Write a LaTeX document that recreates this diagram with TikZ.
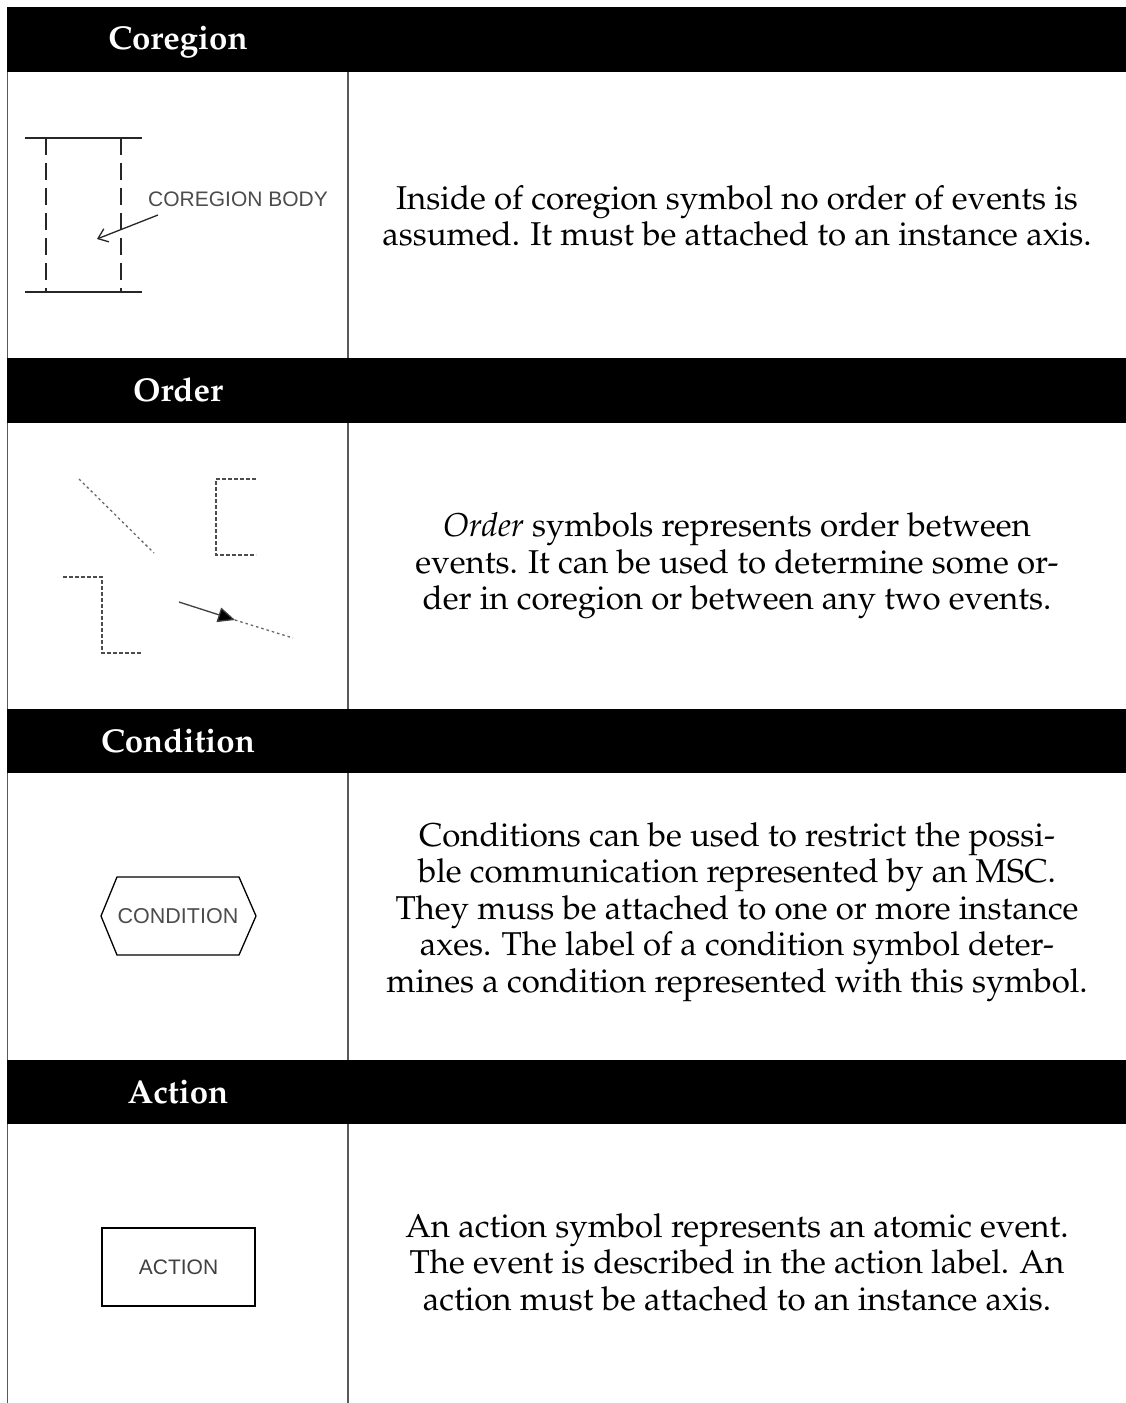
\documentclass[tikz,border=0pt]{standalone}
\usepackage[T1]{fontenc}
\usepackage{fontspec}
\newfontfamily\labelfont{Liberation Sans}
\newcommand\palfont{\fontencoding{T1}\fontfamily{ppl}\selectfont}
\usetikzlibrary{arrows.meta}

\begin{document}
\begin{tikzpicture}[x=1pt,y=-1pt,
  hdrbar/.style={fill=black,draw=none},
  hdrtext/.style={text=white,font=\palfont\bfseries\fontsize{33}{36}\selectfont,anchor=base,inner sep=0pt},
  bodytext/.style={align=center,font=\palfont\fontsize{33}{36.5}\selectfont,inner sep=0pt},
  tablerule/.style={draw=black!65,line width=1.5pt},
  symlabel/.style={font=\labelfont\fontsize{21}{24}\selectfont,text=black!70,inner sep=0pt},
  symline/.style={draw=black!85,line width=1.3pt},
  regiondash/.style={draw=black!85,line width=1.3pt,dash pattern=on 17pt off 8pt},
  orderdots/.style={draw=black!60,line width=1.3pt,dash pattern=on 2.5pt off 3pt},
  orderdash/.style={draw=black!70,line width=1.2pt,dash pattern=on 4pt off 2pt},
]
% page
\fill[white] (0,0) rectangle (1126,1403);
\useasboundingbox (0,0) rectangle (1126,1403);

% table frame
\draw[tablerule] (7.5,7) -- (7.5,1403);
\draw[tablerule] (348,72) -- (348,1403);

% header bars
\fill[hdrbar] (7,7) rectangle (1126,72);
\fill[hdrbar] (7,358) rectangle (1126,423);
\fill[hdrbar] (7,709) rectangle (1126,773);
\fill[hdrbar] (7,1060) rectangle (1126,1124);

\node[hdrtext] (hcoregion) at (178,49) {Coregion};
\node[hdrtext] (horder) at (178,401) {Order};
\node[hdrtext] (hcondition) at (178,752) {Condition};
\node[hdrtext] (haction) at (178,1103) {Action};

% descriptions
\node[bodytext] (tcoregion) at (737,216) {Inside of coregion symbol no order of events is\\assumed. It must be attached to an instance axis.};
\node[bodytext] (torder) at (737,566) {\textit{Order} symbols represents order between\\events. It can be used to determine some or-\\der in coregion or between any two events.};
\node[bodytext] (tcondition) at (737,912) {Conditions can be used to restrict the possi-\\ble communication represented by an MSC.\\They muss be attached to one or more instance\\axes. The label of a condition symbol deter-\\mines a condition represented with this symbol.};
\node[bodytext] (taction) at (737,1262) {An action symbol represents an atomic event.\\The event is described in the action label. An\\action must be attached to an instance axis.};

% coregion symbol
\draw[symline] (25,138) -- (142,138);
\draw[symline] (25,292) -- (142,292);
\draw[regiondash] (46,138) -- (46,292);
\draw[regiondash] (121,138) -- (121,292);
\node[symlabel,anchor=base west] (cbody) at (148,206) {COREGION BODY};
\coordinate (cbstart) at (158,215);
\coordinate (cbtip) at (97,239);
\draw[symline,-{Straight Barb[length=9pt,width=14pt,line width=1.3pt]}] (cbstart) -- (cbtip);

% order symbols
\coordinate (oda) at (79,479);
\coordinate (odb) at (154,553);
\draw[orderdots] (oda) -- (odb);
\draw[orderdash] (256,479) -- (216,479) -- (216,555) -- (256,555);
\draw[orderdash] (63,577) -- (102,577) -- (102,653) -- (141,653);
\coordinate (oaa) at (179,602);
\coordinate (oat) at (235,620);
\coordinate (oab) at (293,638);
\draw[draw=black!75,line width=1.3pt,-{Triangle[length=17pt,width=15pt,fill=black]}] (oaa) -- (oat);
\draw[orderdots] (oat) -- (oab);

% condition symbol
\draw[draw=black,line width=1.3pt] (101,916) -- (117,877) -- (239,877) -- (256,916) -- (239,955) -- (117,955) -- cycle;
\node[symlabel,font=\labelfont\fontsize{21.5}{24}\selectfont] (cond) at (178,916) {CONDITION};

% action symbol
\node[draw=black,line width=2pt,minimum width=153pt,minimum height=78pt,inner sep=0pt,
      font=\labelfont\fontsize{21}{24}\selectfont,text=black!75] (act) at (178.5,1267) {ACTION};
\end{tikzpicture}
\end{document}
